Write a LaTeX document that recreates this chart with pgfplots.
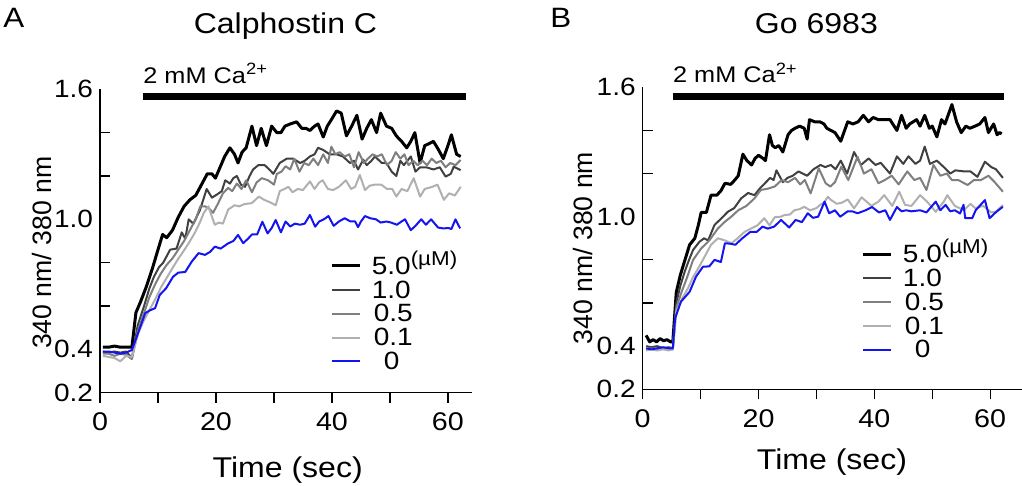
\documentclass[border=0pt]{standalone}
\usepackage{fontspec}
\setmainfont[FakeStretch=1.12]{Liberation Sans}
\newfontfamily\rotfont{Liberation Sans}
\usepackage{pgfplots}
\pgfplotsset{compat=1.18}

\definecolor{cten}{HTML}{404040}
\definecolor{chalf}{HTML}{7F7F7F}
\definecolor{ctenth}{HTML}{B0B0B0}
\definecolor{czero}{HTML}{1414F0}

\newcommand{\uM}{\raisebox{4.5pt}{\fontsize{10}{10}\selectfont(µM)}}
\newcommand{\ca}{2 mM Ca\raisebox{4.3pt}{\fontsize{8.2}{8}\selectfont 2+}}

\pgfplotsset{
  panel/.style={
    scale only axis, anchor=south west, clip=false,
    xmin=0, ymin=0.2, ymax=1.6,
    axis x line*=bottom, axis y line*=left,
    axis line style={line width=0.6pt, black},
    xtick={0,10,...,60}, xticklabels={0,,20,,40,,60},
    xtick align=outside, ytick align=inside,
    x tick style={line width=0.6pt, black},
    y tick style={line width=0.6pt, black},
    major tick length=5pt,
    ytick={0.6,0.8,1.2,1.4}, yticklabels={,,,},
    extra y ticks={0.2,0.4,1.0,1.6},
    extra y tick labels={0.2,0.4,1.0,1.6},
    extra y tick style={major tick length=0pt},
    xticklabel style={font=\fontsize{12.8}{12.8}\selectfont, yshift=-1.5pt},
    yticklabel style={font=\fontsize{12.5}{12.5}\selectfont},
    xlabel={Time (sec)},
    xlabel style={font=\fontsize{14.3}{15}\selectfont, anchor=base},
    ylabel={340 nm/ 380 nm},
    ylabel style={font=\rotfont\fontsize{13.3}{14}\selectfont, anchor=center},
    legend cell align=left,
    legend image code/.code={\draw[#1] (0pt,0pt) -- (14pt,0pt);},
    legend style={draw=none, fill=none, inner sep=0pt,
      font=\fontsize{12.5}{12.5}\selectfont,
      nodes={inner sep=0.5pt, text height=8.3pt, text depth=0pt},
      column sep=4.5pt, row sep=2.65pt},
    every axis plot/.append style={no marks, line join=round},
  },
  s50/.style={black, line width=1.5pt},
  s10/.style={cten, line width=1pt},
  s05/.style={chalf, line width=1pt},
  s01/.style={ctenth, line width=1pt},
  s00/.style={czero, line width=1pt},
}

\begin{document}
\begin{tikzpicture}[x=1pt, y=1pt]
\useasboundingbox (0pt,0pt) rectangle (511pt,243pt);

% ---------------- A: Calphostin C ----------------
\begin{axis}[panel, at={(50pt,46.65pt)}, width=185.85pt, height=151.7pt, xmax=64.1,
  xlabel style={at={(axis description cs:0.505,-0.278)}},
  ylabel style={at={(axis description cs:-0.156,0.461)}},
  legend style={at={(axis description cs:0.62,0.45)}, anchor=north west}]

\addplot[s50] coordinates {(0.5,0.41) (1.5,0.41) (2.5,0.415) (3.5,0.41) (4.5,0.41) (5.5,0.41) (6.2,0.57) (7.0,0.62) (8.0,0.69) (9.0,0.77) (10.0,0.86) (10.8,0.93) (11.5,0.915) (12.5,0.95) (13.5,1.01) (14.5,1.06) (15.5,1.09) (16.5,1.11) (17.5,1.16) (18.5,1.21) (19.3,1.21) (19.9,1.19) (20.7,1.24) (21.5,1.29) (22.4,1.33) (23.2,1.30) (23.8,1.26) (24.5,1.31) (25.2,1.33) (26.2,1.43) (27.0,1.34) (27.8,1.42) (28.7,1.34) (29.6,1.43) (30.5,1.40) (31.2,1.40) (31.9,1.43) (32.8,1.44) (33.9,1.45) (34.8,1.42) (35.5,1.42) (36.2,1.41) (37.0,1.43) (37.6,1.44) (38.5,1.38) (39.2,1.43) (39.9,1.46) (40.8,1.50) (41.6,1.49) (42.5,1.385) (43.4,1.43) (44.3,1.48) (45.2,1.37) (46.0,1.42) (46.8,1.46) (47.7,1.40) (48.4,1.49) (49.4,1.43) (50.3,1.42) (51.1,1.385) (52.0,1.36) (52.9,1.33) (53.6,1.36) (54.3,1.40) (55.2,1.26) (56.0,1.34) (56.8,1.35) (57.5,1.36) (58.4,1.32) (59.2,1.28) (60.0,1.34) (60.6,1.39) (61.5,1.30) (62.2,1.29)};
\addlegendentry{5.0\uM}

\addplot[s10] coordinates {(0.5,0.39) (1.5,0.385) (2.5,0.39) (3.5,0.385) (4.5,0.39) (5.5,0.36) (6.5,0.51) (7.6,0.60) (8.5,0.68) (9.3,0.735) (10.2,0.78) (10.9,0.80) (12.1,0.86) (13.2,0.865) (14.1,0.94) (14.7,0.91) (15.3,1.00) (16.1,0.98) (17.2,1.04) (18.4,1.14) (19.3,1.10) (20.2,1.115) (21.0,1.13) (21.6,1.18) (22.4,1.165) (23.0,1.19) (23.6,1.20) (24.3,1.16) (25.0,1.15) (25.8,1.20) (26.4,1.23) (27.3,1.25) (28.4,1.25) (29.2,1.23) (29.9,1.21) (31.0,1.26) (32.2,1.28) (33.3,1.28) (34.5,1.26) (35.3,1.27) (36.2,1.29) (37.0,1.30) (37.6,1.33) (38.5,1.32) (39.6,1.30) (40.8,1.30) (41.9,1.29) (43.1,1.26) (43.8,1.27) (44.5,1.23) (45.4,1.275) (46.0,1.25) (46.8,1.27) (47.4,1.29) (48.6,1.26) (49.4,1.26) (50.3,1.22) (51.1,1.20) (51.8,1.27) (52.4,1.25) (53.6,1.29) (54.4,1.22) (55.2,1.24) (56.3,1.24) (57.5,1.23) (58.6,1.24) (59.6,1.197) (60.5,1.21) (61.0,1.243) (62.2,1.227)};
\addlegendentry{1.0}

\addplot[s05] coordinates {(0.5,0.38) (1.5,0.38) (2.5,0.37) (3.5,0.38) (4.5,0.375) (5.5,0.355) (6.5,0.48) (7.5,0.56) (8.5,0.64) (9.5,0.70) (10.5,0.75) (11.5,0.79) (12.5,0.82) (13.5,0.86) (14.5,0.90) (15.5,0.95) (16.5,1.00) (17.3,1.06) (18.1,1.06) (18.8,1.05) (19.5,1.03) (20.3,1.07) (21.2,1.12) (22.1,1.145) (22.8,1.13) (23.6,1.165) (24.4,1.14) (25.2,1.18) (26.2,1.125) (27.0,1.17) (27.9,1.19) (29.0,1.18) (30.0,1.16) (30.5,1.21) (31.3,1.22) (32.0,1.245) (32.8,1.23) (33.5,1.28) (34.4,1.22) (35.2,1.26) (36.0,1.25) (36.8,1.28) (37.6,1.25) (38.5,1.30) (39.3,1.26) (39.9,1.335) (40.6,1.30) (41.3,1.31) (42.2,1.29) (43.0,1.30) (43.8,1.24) (44.6,1.31) (45.5,1.26) (46.2,1.28) (47.0,1.30) (47.8,1.29) (48.6,1.30) (49.5,1.25) (50.3,1.27) (51.0,1.31) (51.8,1.28) (52.5,1.30) (53.2,1.25) (54.0,1.27) (54.8,1.25) (55.6,1.27) (56.4,1.25) (57.2,1.28) (58.0,1.26) (58.8,1.27) (59.6,1.24) (60.4,1.26) (61.3,1.25) (62.2,1.274)};
\addlegendentry{\hspace{1pt}0.5}

\addplot[s01] coordinates {(0.5,0.37) (1.5,0.365) (2.5,0.36) (3.5,0.345) (4.5,0.37) (5.5,0.365) (6.6,0.475) (7.5,0.53) (8.3,0.57) (9.5,0.63) (10.6,0.69) (11.5,0.73) (12.4,0.77) (13.3,0.81) (14.2,0.845) (15.3,0.89) (16.4,0.94) (17.3,0.99) (17.9,1.03) (18.7,1.06) (19.2,1.02) (19.8,0.975) (20.5,0.985) (21.2,0.98) (22.1,1.045) (23.2,1.065) (24.0,1.06) (24.9,1.07) (26.2,1.075) (27.4,1.105) (28.3,1.09) (29.2,1.08) (30.3,1.065) (31.0,1.13) (31.8,1.14) (32.5,1.15) (33.2,1.125) (34.1,1.14) (35.0,1.135) (36.2,1.175) (37.0,1.14) (37.8,1.17) (38.4,1.18) (39.3,1.14) (40.2,1.135) (41.2,1.15) (42.4,1.18) (43.3,1.14) (44.0,1.15) (44.8,1.205) (45.7,1.135) (46.5,1.155) (47.4,1.16) (48.5,1.16) (49.5,1.14) (50.4,1.14) (51.1,1.105) (52.0,1.14) (53.0,1.13) (54.1,1.19) (55.2,1.105) (56.0,1.14) (57.3,1.15) (58.2,1.16) (59.3,1.09) (60.2,1.12) (61.2,1.11) (62.2,1.15)};
\addlegendentry{\hspace{1pt}0.1}

\addplot[s00] coordinates {(0.5,0.39) (1.5,0.39) (2.5,0.385) (3.5,0.38) (4.5,0.385) (5.5,0.397) (6.5,0.47) (7.8,0.567) (8.6,0.58) (9.5,0.59) (10.3,0.651) (11.4,0.682) (12.6,0.735) (13.5,0.754) (14.7,0.757) (15.8,0.804) (17.0,0.844) (18.1,0.836) (19.0,0.85) (19.8,0.874) (20.8,0.865) (22.1,0.889) (23.0,0.90) (23.8,0.928) (24.7,0.89) (25.5,0.91) (26.2,0.93) (27.1,0.93) (28.0,0.989) (28.9,0.935) (29.6,0.96) (30.3,0.997) (31.2,0.94) (32.0,0.99) (32.8,0.967) (33.6,0.98) (34.5,0.975) (35.3,0.98) (36.2,1.02) (37.1,0.966) (37.8,0.99) (38.6,1.0) (39.4,1.015) (40.3,0.97) (41.2,0.99) (42.2,1.005) (43.2,0.99) (44.0,0.99) (44.5,0.964) (45.0,0.99) (45.7,1.015) (46.6,1.005) (47.6,1.0) (48.4,0.985) (49.4,0.99) (50.2,0.985) (51.2,0.975) (52.0,0.99) (52.6,1.0) (53.6,0.95) (54.4,0.97) (55.4,1.0) (56.2,0.975) (57.1,1.0) (58.3,0.962) (59.2,0.958) (60.1,0.96) (60.6,0.955) (61.3,1.0) (62.1,0.958)};
\addlegendentry{\hspace{6pt}0}

% calcium bar
\addplot[black, line width=3.7pt, forget plot] coordinates {(7.41,1.567) (63.1,1.567)};
\node[anchor=base west, inner sep=0pt, font=\fontsize{11.3}{12}\selectfont] at (axis cs:7.41,1.629) {\ca};
\node[anchor=base, inner sep=0pt, font=\fontsize{14.3}{15}\selectfont] at (axis description cs:0.499,1.1846) {Calphostin C};
\end{axis}

% ---------------- B: Go 6983 ----------------
\begin{axis}[panel, at={(321.35pt,48.35pt)}, width=189.65pt, height=151pt, xmax=65.5,
  xlabel style={at={(axis description cs:0.499,-0.267)}},
  ylabel style={at={(axis description cs:-0.158,0.468)}},
  legend style={at={(axis description cs:0.577,0.48)}, anchor=north west}]

\addplot[s50] coordinates {(0.6,0.45) (1.2,0.42) (1.8,0.43) (2.4,0.42) (3.0,0.435) (3.6,0.425) (4.2,0.43) (4.8,0.42) (5.2,0.42) (5.8,0.65) (6.5,0.73) (7.3,0.80) (8.1,0.87) (9.0,0.90) (9.6,0.96) (10.1,1.02) (11.0,1.02) (11.8,1.10) (12.8,1.10) (13.5,1.12) (14.2,1.155) (15.2,1.15) (15.9,1.17) (16.5,1.19) (17.3,1.29) (18.0,1.26) (18.8,1.24) (19.4,1.27) (20.0,1.285) (20.8,1.27) (21.2,1.26) (21.9,1.38) (22.4,1.33) (22.9,1.32) (23.5,1.33) (24.2,1.30) (25.1,1.38) (25.7,1.40) (26.3,1.41) (27.1,1.42) (27.9,1.41) (28.4,1.36) (28.8,1.45) (29.7,1.44) (30.6,1.44) (31.3,1.43) (31.8,1.41) (32.5,1.40) (33.2,1.39) (34.2,1.35) (35.4,1.44) (36.3,1.43) (37.2,1.44) (38.1,1.47) (39.0,1.44) (39.8,1.46) (40.7,1.45) (41.6,1.45) (42.7,1.45) (43.9,1.40) (44.7,1.47) (45.5,1.41) (46.1,1.43) (47.3,1.45) (47.9,1.42) (48.7,1.47) (49.5,1.41) (50.0,1.42) (50.8,1.37) (51.6,1.45) (52.2,1.43) (53.4,1.52) (54.2,1.44) (55.0,1.39) (55.8,1.42) (56.5,1.41) (57.4,1.42) (58.2,1.43) (59.1,1.46) (59.7,1.39) (60.6,1.43) (61.2,1.38) (61.6,1.39) (62.0,1.385)};
\addlegendentry{5.0\uM}

\addplot[s10] coordinates {(0.6,0.40) (1.5,0.395) (2.5,0.40) (3.5,0.39) (4.5,0.395) (5.2,0.39) (5.8,0.60) (6.5,0.68) (7.25,0.745) (8.0,0.80) (8.7,0.846) (9.8,0.884) (10.6,0.90) (11.3,0.89) (12.4,0.962) (13.5,0.99) (14.7,1.023) (15.8,1.04) (17.0,1.085) (18.2,1.11) (19.3,1.10) (20.2,1.13) (21.1,1.155) (22.0,1.18) (22.6,1.17) (23.1,1.215) (24.2,1.16) (25.0,1.18) (25.9,1.19) (26.9,1.21) (28.4,1.19) (29.5,1.22) (30.7,1.24) (31.5,1.23) (32.5,1.24) (33.3,1.22) (34.2,1.26) (35.3,1.20) (36.5,1.30) (37.7,1.24) (39.0,1.27) (40.2,1.24) (41.1,1.25) (42.7,1.20) (43.9,1.28) (45.0,1.245) (45.9,1.28) (47.1,1.245) (47.9,1.26) (48.7,1.325) (49.6,1.245) (50.8,1.26) (52.0,1.23) (53.1,1.20) (54.0,1.215) (55.5,1.21) (56.6,1.21) (57.8,1.185) (59.1,1.255) (60.2,1.23) (61.0,1.22) (62.2,1.18)};
\addlegendentry{1.0}

\addplot[s05] coordinates {(0.6,0.385) (1.5,0.39) (2.5,0.385) (3.5,0.39) (4.5,0.39) (5.2,0.385) (5.8,0.577) (6.7,0.65) (7.6,0.714) (8.7,0.80) (10.1,0.853) (11.5,0.89) (13.0,0.946) (14.2,0.977) (15.3,1.00) (16.5,1.03) (17.9,1.05) (19.3,1.085) (20.4,1.124) (21.6,1.13) (22.8,1.14) (24.0,1.17) (25.1,1.16) (26.3,1.18) (27.2,1.15) (28.0,1.17) (29.0,1.108) (30.4,1.224) (31.6,1.155) (32.4,1.14) (33.2,1.16) (34.3,1.232) (35.5,1.17) (37.1,1.278) (38.2,1.20) (39.5,1.22) (40.7,1.155) (41.8,1.17) (43.0,1.19) (44.2,1.15) (45.7,1.21) (46.9,1.17) (47.9,1.18) (49.0,1.124) (50.2,1.24) (51.4,1.19) (52.5,1.20) (53.4,1.17) (54.5,1.17) (56.1,1.147) (57.2,1.17) (58.4,1.17) (59.7,1.19) (60.8,1.16) (62.2,1.116)};
\addlegendentry{\hspace{1pt}0.5}

\addplot[s01] coordinates {(0.6,0.38) (1.5,0.385) (2.5,0.38) (3.5,0.385) (4.5,0.38) (5.2,0.385) (5.8,0.56) (6.8,0.62) (7.8,0.668) (8.7,0.72) (9.6,0.761) (10.7,0.815) (11.8,0.87) (13.0,0.90) (14.2,0.89) (15.3,0.877) (16.4,0.90) (17.6,0.93) (18.7,0.945) (19.8,0.96) (21.0,0.993) (21.9,0.96) (22.8,0.998) (23.8,1.0) (24.5,1.008) (25.4,1.01) (26.2,1.03) (27.1,1.035) (27.9,1.046) (28.9,1.03) (30.0,1.04) (30.6,1.054) (31.3,1.065) (32.0,1.093) (32.4,1.08) (33.5,1.06) (34.4,1.065) (35.4,1.08) (36.5,1.039) (37.8,1.09) (39.5,1.05) (40.7,1.07) (41.7,1.10) (43.1,1.05) (44.3,1.116) (45.3,1.055) (46.4,1.05) (47.9,1.10) (49.1,1.07) (50.6,1.023) (52.0,1.07) (52.6,1.10) (53.9,1.05) (55.5,1.03) (56.6,1.06) (57.4,1.04) (58.8,1.05) (60.2,1.02) (61.0,1.023) (62.2,1.054)};
\addlegendentry{\hspace{1pt}0.1}

\addplot[s00] coordinates {(0.6,0.39) (1.5,0.385) (2.5,0.39) (3.5,0.395) (4.5,0.39) (5.2,0.39) (5.6,0.529) (6.6,0.606) (8.1,0.652) (9.2,0.722) (10.4,0.768) (11.5,0.77) (12.4,0.80) (13.5,0.79) (14.2,0.877) (15.1,0.875) (16.0,0.87) (17.2,0.90) (18.6,0.93) (19.7,0.93) (20.7,0.954) (21.6,0.945) (22.7,0.954) (23.9,0.985) (25.3,0.95) (26.4,0.985) (27.5,0.975) (28.5,1.016) (29.4,0.995) (30.3,1.0) (31.4,1.07) (32.2,1.016) (33.2,1.03) (34.1,1.0) (35.4,1.025) (36.2,1.025) (37.1,1.016) (38.5,1.03) (39.6,1.045) (40.8,1.02) (41.9,1.03) (42.7,0.985) (43.9,1.045) (44.7,1.025) (45.5,1.03) (46.4,1.025) (47.9,1.03) (49.0,1.02) (50.6,1.07) (51.4,1.03) (52.3,1.055) (53.1,1.025) (53.9,1.03) (54.8,1.015) (55.4,1.055) (55.7,0.993) (56.9,0.993) (57.5,1.03) (59.1,1.077) (59.9,0.993) (60.8,1.016) (61.4,1.03) (62.2,1.046)};
\addlegendentry{\hspace{6pt}0}

\addplot[black, line width=3.7pt, forget plot] coordinates {(5.18,1.558) (62.4,1.558)};
\node[anchor=base west, inner sep=0pt, font=\fontsize{11.3}{12}\selectfont] at (axis cs:5.18,1.62) {\ca};
\node[anchor=base, inner sep=0pt, font=\fontsize{14.3}{15}\selectfont] at (axis description cs:0.458,1.179) {Go 6983};
\end{axis}

\node[anchor=base west, inner sep=0pt, font=\fontsize{14}{15}\selectfont] at (1.5pt,229pt) {A};
\node[anchor=base west, inner sep=0pt, font=\fontsize{14}{15}\selectfont] at (275pt,229pt) {B};
\end{tikzpicture}
\end{document}
